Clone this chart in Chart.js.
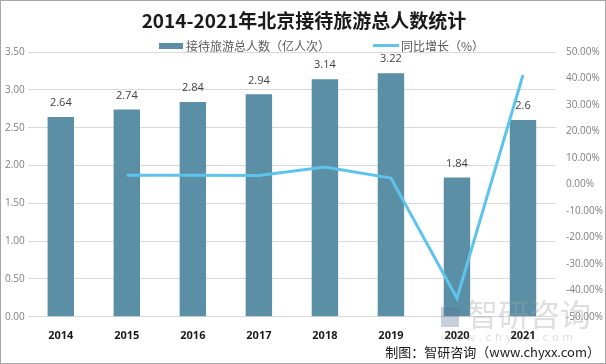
<!DOCTYPE html>
<html>
<head>
<meta charset="utf-8">
<script src="https://cdn.jsdelivr.net/npm/chart.js@4"></script>
<style>
  html, body { margin: 0; padding: 0; background: #fff; }
  #wrap { width: 604px; height: 362px; border: 1px solid #a6a6a6; position: relative; }
</style>
</head>
<body>
<div id="wrap"><canvas id="c" width="604" height="362"></canvas></div>
<script>
const YEARS = ["2014", "2015", "2016", "2017", "2018", "2019", "2020", "2021"];
const VISITORS = [2.64, 2.74, 2.84, 2.94, 3.14, 3.22, 1.84, 2.6];
const GROWTH = [null, 3.5, 3.5, 3.4, 6.6, 2.4, -43.0, 41.3];
const TITLE = "2014-2021年北京接待旅游总人数统计";
const BAR_LABEL = "接待旅游总人数（亿人次）";
const LINE_LABEL = "同比增长（%）";
const BAR_COLOR = "#5b8fa6";
const LINE_COLOR = "#5ec4ec";
const CJK = "'Noto Sans CJK SC', sans-serif";

/* ---------- plugins ---------- */

const barLabels = {
  id: "barLabels",
  afterDatasetsDraw(chart) {
    const ctx = chart.ctx;
    const meta = chart.getDatasetMeta(1);
    ctx.save();
    ctx.font = "11px 'Open Sans', 'Noto Sans', sans-serif";
    ctx.fillStyle = "#404040";
    ctx.textAlign = "center";
    ctx.textBaseline = "middle";
    meta.data.forEach((bar, i) => {
      ctx.fillText(String(VISITORS[i]), bar.x, bar.y - 14);
    });
    ctx.restore();
  },
};

// title + legend drawn by hand so they sit where the original has them
const header = {
  id: "header",
  afterDraw(chart) {
    const ctx = chart.ctx;
    ctx.save();
    ctx.font = "bold 19px " + CJK;
    ctx.fillStyle = "#1a1a1a";
    ctx.textAlign = "center";
    ctx.textBaseline = "middle";
    ctx.fillText(TITLE, 303, 20);

    ctx.font = "12px " + CJK;
    ctx.textAlign = "left";
    ctx.fillStyle = BAR_COLOR;
    ctx.fillRect(158, 42, 24, 6);
    ctx.fillStyle = "#595959";
    ctx.fillText(BAR_LABEL, 185, 45);
    ctx.fillStyle = LINE_COLOR;
    ctx.fillRect(372, 43, 26, 3);
    ctx.fillStyle = "#595959";
    ctx.fillText(LINE_LABEL, 400, 45);
    ctx.restore();
  },
};

const footer = {
  id: "footer",
  afterDraw(chart) {
    const ctx = chart.ctx;
    ctx.save();
    // watermark
    ctx.font = "31px " + CJK;
    ctx.fillStyle = "rgba(160,160,160,0.35)";
    ctx.textAlign = "left";
    ctx.textBaseline = "middle";
    ctx.fillText("智研咨询", 466, 313);
    ctx.fillStyle = "rgba(90,120,150,0.35)";
    ctx.fillRect(440, 306, 18, 20);
    ctx.font = "11px 'DejaVu Sans', sans-serif";
    ctx.fillStyle = "rgba(160,160,160,0.35)";
    ctx.fillText("w w w . c h y x x . c o m", 440, 337);
    // source line
    ctx.font = "13px " + CJK;
    ctx.fillStyle = "#1a1a1a";
    ctx.textAlign = "right";
    ctx.fillText("制图：智研咨询（www.chyxx.com）", 599, 351);
    ctx.restore();
  },
};

/* ---------- chart ---------- */

new Chart(document.getElementById("c"), {
  data: {
    labels: YEARS,
    datasets: [
      {
        type: "line",
        label: LINE_LABEL,
        data: GROWTH,
        yAxisID: "y1",
        borderColor: LINE_COLOR,
        backgroundColor: LINE_COLOR,
        borderWidth: 3,
        pointRadius: 0,
        tension: 0,
        order: 0,
      },
      {
        type: "bar",
        label: BAR_LABEL,
        data: VISITORS,
        yAxisID: "y",
        backgroundColor: BAR_COLOR,
        barPercentage: 0.4,
        categoryPercentage: 1,
        order: 1,
      },
    ],
  },
  options: {
    responsive: false,
    animation: false,
    layout: { padding: { left: 1, right: 0, top: 51, bottom: 17 } },
    plugins: {
      title: { display: false },
      legend: { display: false },
      tooltip: { enabled: false },
    },
    scales: {
      x: {
        grid: { display: false },
        border: { display: false },
        ticks: {
          font: { family: "'Open Sans', sans-serif", size: 11, weight: "bold" },
          color: "#1a1a1a",
          padding: 4,
        },
      },
      y: {
        position: "left",
        min: 0,
        max: 3.5,
        ticks: {
          stepSize: 0.5,
          font: { family: "'Open Sans', sans-serif", size: 10 },
          color: "#7f7f7f",
          padding: 3,
          callback: (v) => v.toFixed(2),
        },
        grid: { color: "#d9d9d9", drawTicks: false },
        border: { display: false },
      },
      y1: {
        position: "right",
        min: -50,
        max: 50,
        ticks: {
          stepSize: 10,
          font: { family: "'Open Sans', sans-serif", size: 10 },
          color: "#7f7f7f",
          padding: 2,
          callback: (v) => v.toFixed(2) + "%",
        },
        grid: { display: false },
        border: { display: false },
      },
    },
  },
  plugins: [barLabels, header, footer],
});
</script>
</body>
</html>
